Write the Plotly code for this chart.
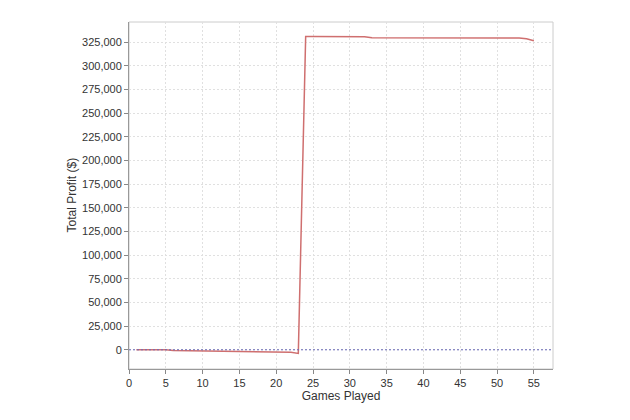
import plotly.graph_objects as go

games = list(range(1, 56))
profit = [
    0, 100, 100, 0, 0,
    -800, -900, -1000, -1100, -1300,
    -1500, -2000, -2200, -2200, -2300,
    -2300, -2300, -2400, -2400, -2400,
    -2500, -2600, -3800, 331000, 331000,
    331000, 331000, 331000, 331000, 331000,
    331000, 330800, 329600, 329600, 329600,
    329600, 329600, 329600, 329600, 329600,
    329600, 329600, 329600, 329600, 329600,
    329600, 329600, 329600, 329600, 329600,
    329600, 329600, 329500, 328500, 326500,
]
x_ticks = [0, 5, 10, 15, 20, 25, 30, 35, 40, 45, 50, 55]
y_ticks = list(range(0, 325001, 25000))

fig = go.Figure()
fig.add_trace(go.Scatter(
    x=games, y=profit, mode="lines",
    line=dict(color="#cf6f6f", width=1.5),
    showlegend=False, hoverinfo="skip",
))

fig.add_hline(y=0, line=dict(color="#6a6ab8", width=1, dash="2px,2px"))

fig.update_layout(
    width=630, height=420,
    margin=dict(l=121, r=85, t=14, b=59),
    paper_bgcolor="white", plot_bgcolor="white",
    font=dict(family="Liberation Sans, Arial", size=11, color="#333333"),
)
fig.update_xaxes(
    range=[0, 57.6], tickvals=x_ticks, ticks="outside", ticklen=4,
    tickcolor="#888888", automargin=False,
    showgrid=True, gridcolor="#e0e0e0", griddash="2px,2px", gridwidth=1,
    showline=True, linecolor="#999999", linewidth=1, mirror=False,
    zeroline=False,
    title=dict(text="Games Played", font=dict(size=12, color="#333333"), standoff=1),
)
fig.update_yaxes(
    range=[-20300, 346300], tickvals=y_ticks, tickformat=",d",
    ticks="outside", ticklen=4, tickcolor="#888888", automargin=False,
    showgrid=True, gridcolor="#e0e0e0", griddash="2px,2px", gridwidth=1,
    showline=True, linecolor="#999999", linewidth=1,
    zeroline=False,
)
fig.add_annotation(
    text="Total Profit ($)", xref="paper", yref="paper", x=0, y=0.5,
    xanchor="center", yanchor="middle", xshift=-58, textangle=-90,
    showarrow=False, font=dict(size=12, color="#333333"),
)
# light frame on top and right
fig.add_shape(type="rect", xref="paper", yref="paper", x0=0, y0=0, x1=1, y1=1,
              line=dict(color="#cccccc", width=1), layer="below")

fig.write_html("out.html")
